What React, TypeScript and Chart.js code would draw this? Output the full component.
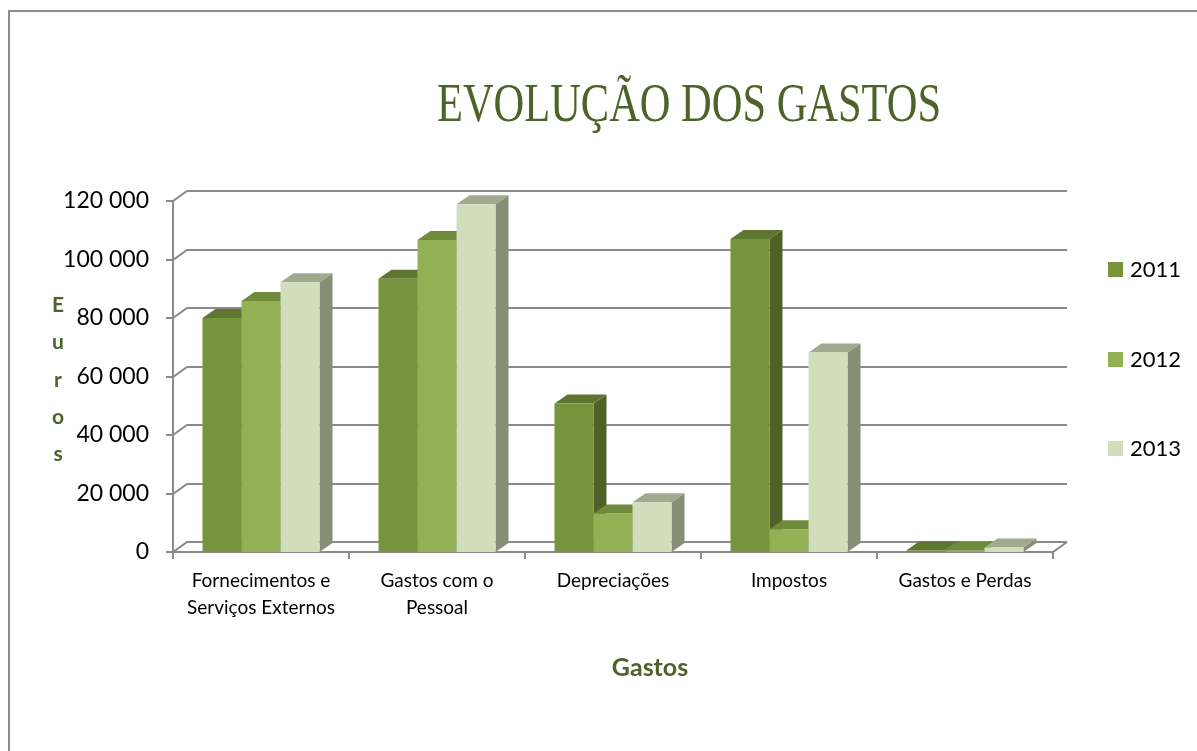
import React, { useEffect, useRef } from "react";
import { Chart, registerables } from "chart.js";

Chart.register(...registerables);

// ---------- data ----------
const categories: string[][] = [
  ["Fornecimentos e", "Serviços Externos"],
  ["Gastos com o", "Pessoal"],
  ["Depreciações"],
  ["Impostos"],
  ["Gastos e Perdas"],
];
const seriesLabels = ["2011", "2012", "2013"];
const values2011 = [80000, 93400, 50800, 107000, 600];
const values2012 = [85800, 106700, 13200, 7800, 400];
const values2013 = [92200, 118900, 17000, 68200, 1500];
const yTickValues = [0, 20000, 40000, 60000, 80000, 100000, 120000];
const chartTitle = "EVOLUÇÃO DOS GASTOS";
const yAxisTitle = "Euros";
const xAxisTitle = "Gastos";

// ---------- styles ----------
const frontColors = ["#77933C", "#93B055", "#D1DEBB"];
const topColors = ["#5F7630", "#6E8A3A", "#A0AB8D"];
const sideColors = ["#4E6127", "#5B7230", "#868E78"];
const titleGreen = "#4F6228";
const gridColor = "#8A8A8A";
const FONT = "Lato, 'Open Sans', sans-serif";

const WALL_DX = 14;
const WALL_DY = 10;
const BAR_DX = 13;
const BAR_DY = 9;

const threeDPlugin = {
  id: "threeD",
  beforeDraw(chart: any) {
    const ctx = chart.ctx;
    ctx.save();
    ctx.strokeStyle = "#8C8C8C";
    ctx.lineWidth = 2;
    ctx.beginPath();
    ctx.moveTo(9, 751);
    ctx.lineTo(9, 11);
    ctx.lineTo(1197, 11);
    ctx.stroke();
    ctx.restore();
  },
  beforeDatasetsDraw(chart: any) {
    const ctx = chart.ctx;
    const ys = chart.scales.y;
    const area = chart.chartArea;
    const left = area.left;
    const right = area.right;
    const bottom = area.bottom;
    ctx.save();
    ctx.strokeStyle = gridColor;
    ctx.lineWidth = 2;
    ctx.lineJoin = "miter";
    yTickValues.forEach((v) => {
      const fy = Math.round(ys.getPixelForValue(v));
      ctx.beginPath();
      ctx.moveTo(left - 7, fy);
      ctx.lineTo(left, fy);
      ctx.lineTo(left + WALL_DX, fy - WALL_DY);
      ctx.lineTo(right + WALL_DX, fy - WALL_DY);
      ctx.stroke();
    });
    const topY = Math.round(ys.getPixelForValue(yTickValues[yTickValues.length - 1]));
    ctx.beginPath();
    ctx.moveTo(left, topY);
    ctx.lineTo(left, bottom + 7);
    ctx.stroke();
    ctx.beginPath();
    ctx.moveTo(left, bottom);
    ctx.lineTo(right, bottom);
    ctx.lineTo(right + WALL_DX, bottom - WALL_DY);
    ctx.stroke();
    const n = categories.length;
    for (let k = 0; k <= n; k++) {
      const x = Math.round(left + (k * (right - left)) / n);
      ctx.beginPath();
      ctx.moveTo(x, bottom);
      ctx.lineTo(x, bottom + 7);
      ctx.stroke();
    }
    for (let i = 0; i < categories.length; i++) {
      for (let d = 0; d < chart.data.datasets.length; d++) {
        const meta = chart.getDatasetMeta(d);
        const el = meta.data[i];
        if (!el) continue;
        const p = el.getProps(["x", "y", "base", "width"], true);
        const x0 = p.x - p.width / 2;
        const x1 = p.x + p.width / 2;
        const t = p.y;
        const b = p.base;
        ctx.fillStyle = sideColors[d];
        ctx.beginPath();
        ctx.moveTo(x1, t);
        ctx.lineTo(x1 + BAR_DX, t - BAR_DY);
        ctx.lineTo(x1 + BAR_DX, b - BAR_DY);
        ctx.lineTo(x1, b);
        ctx.closePath();
        ctx.fill();
        ctx.fillStyle = topColors[d];
        ctx.beginPath();
        ctx.moveTo(x0, t);
        ctx.lineTo(x1, t);
        ctx.lineTo(x1 + BAR_DX, t - BAR_DY);
        ctx.lineTo(x0 + BAR_DX, t - BAR_DY);
        ctx.closePath();
        ctx.fill();
      }
    }
    ctx.restore();
  },
  afterDraw(chart: any) {
    const ctx = chart.ctx;
    ctx.save();
    ctx.fillStyle = titleGreen;
    ctx.font = `54px "Liberation Serif", serif`;
    ctx.textAlign = "center";
    ctx.textBaseline = "alphabetic";
    const w = ctx.measureText(chartTitle).width;
    const sx = 504 / w;
    ctx.translate(689, 121);
    ctx.scale(sx, 1);
    ctx.fillText(chartTitle, 0, 0);
    ctx.restore();

    ctx.save();
    ctx.fillStyle = titleGreen;
    ctx.font = `bold 21px ${FONT}`;
    ctx.textAlign = "center";
    ctx.textBaseline = "alphabetic";
    yAxisTitle.split("").forEach((ch, k) => {
      ctx.fillText(ch, 58, 312 + k * 37.3);
    });
    ctx.font = `bold 25px ${FONT}`;
    ctx.textBaseline = "middle";
    ctx.fillText(xAxisTitle, 650, 668);
    ctx.restore();

    ctx.save();
    ctx.font = `22px ${FONT}`;
    ctx.textAlign = "left";
    ctx.textBaseline = "alphabetic";
    const legendTops = [262, 352, 441];
    chart.data.datasets.forEach((ds: any, d: number) => {
      ctx.fillStyle = frontColors[d];
      ctx.fillRect(1108, legendTops[d], 15, 15);
      ctx.fillStyle = "#000000";
      ctx.fillText(ds.label, 1130, legendTops[d] + 15);
    });
    ctx.restore();
  },
};

export default function App() {
  const ref = useRef<HTMLCanvasElement | null>(null);
  useEffect(() => {
    if (!ref.current) return;
    const chart = new Chart(ref.current, {
      type: "bar",
      data: {
        labels: categories,
        datasets: [
          { label: seriesLabels[0], data: values2011, backgroundColor: frontColors[0] },
          { label: seriesLabels[1], data: values2012, backgroundColor: frontColors[1] },
          { label: seriesLabels[2], data: values2013, backgroundColor: frontColors[2] },
        ],
      },
      options: {
        responsive: false,
        animation: false,
        devicePixelRatio: 1,
        layout: { padding: { left: 0, right: 144, top: 201, bottom: 0 } },
        datasets: {
          bar: { categoryPercentage: 0.665, barPercentage: 1.0, borderWidth: 0 },
        },
        plugins: {
          legend: { display: false },
          title: { display: false },
          tooltip: { enabled: false },
        },
        scales: {
          x: {
            offset: true,
            grid: { display: false, drawTicks: false },
            border: { display: false },
            ticks: {
              color: "#000000",
              font: { family: FONT, size: 19, lineHeight: 1.42 },
              padding: 15,
              maxRotation: 0,
              autoSkip: false,
            },
            afterFit: (s: any) => {
              s.height = 199;
            },
          },
          y: {
            min: 0,
            max: 120000,
            grid: { display: false, drawTicks: false },
            border: { display: false },
            ticks: {
              stepSize: 20000,
              color: "#000000",
              font: { family: FONT, size: 23 },
              padding: 24,
              callback: (v: any) => {
                const n = Number(v);
                return n.toLocaleString("en-US").replace(/,/g, " ");
              },
            },
            afterFit: (s: any) => {
              s.width = 173;
            },
          },
        },
      },
      plugins: [threeDPlugin],
    } as any);
    return () => chart.destroy();
  }, []);
  return (
    <div style={{ position: "absolute", left: 0, top: 0, width: 1197, height: 751, background: "#fff" }}>
      <canvas ref={ref} width={1197} height={751} style={{ display: "block" }} />
    </div>
  );
}
